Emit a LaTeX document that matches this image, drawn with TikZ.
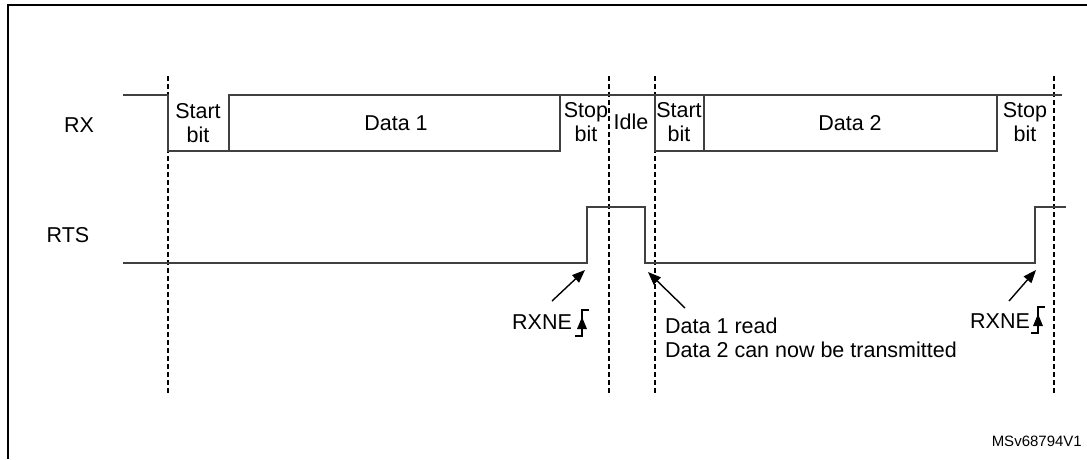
\documentclass[tikz,border=0pt]{standalone}
\usepackage{fontspec}
\setmainfont{Liberation Sans}
\usetikzlibrary{arrows.meta}

\begin{document}
\begin{tikzpicture}[
      x=1pt, y=-1pt,
      signal/.style={line width=1.5pt, draw=black!75},
      bitline/.style={line width=1.3pt, dash pattern=on 5pt off 3pt},
      txt/.style={font=\fontsize{21.5}{24.5}\selectfont, align=center, inner sep=0pt},
      pointer/.style={line width=1.4pt, -{Triangle[length=13pt,width=10pt]}}
    ]
    \useasboundingbox (0,0) rectangle (1087,459);
    % frame
    \draw[line width=2.5pt] (8,459) -- (8,5) -- (1087,5);

    % dashed bit boundaries
    \foreach \x in {168,609,655,1054}
      \draw[bitline] (\x,76) -- (\x,395);

    % RX line
    \node[txt] (rx) at (79,125) {RX};
    \draw[signal] (123,95) -- (168,95) -- (168,151) -- (560,151) -- (560,95);
    \draw[signal] (229,151) -- (229,95) -- (1062,95);
    \draw[signal] (655,95) -- (655,151) -- (997,151) -- (997,95);
    \draw[signal] (704,151) -- (704,95);
    \node[txt] (start1) at (198,123) {Start\\bit};
    \node[txt] (data1) at (396,123) {Data 1};
    \node[txt] (stop1) at (586,122) {Stop\\bit};
    \node[txt] (idle) at (631,122) {Idle};
    \node[txt] (start2) at (679,122) {Start\\bit};
    \node[txt] (data2) at (850,123) {Data 2};
    \node[txt] (stop2) at (1025,122) {Stop\\bit};

    % RTS line
    \node[txt] (rts) at (68,235) {RTS};
    \draw[signal] (123,263) -- (587,263) -- (587,207) -- (645,207) -- (645,263)
      -- (1035,263) -- (1035,207) -- (1066,207);

    % flags and arrows
    \coordinate (rise1) at (585,270);
    \coordinate (fall1) at (648,272);
    \coordinate (rise2) at (1036,270);
    \node[txt] (rxne1) at (542,322) {RXNE};
    \node[txt] (rxne2) at (1000,321) {RXNE};
    \node[txt, align=left, anchor=west] (read) at (665,338) {Data 1 read\\Data 2 can now be transmitted};
    \draw[pointer] (552,301) -- (rise1);
    \draw[pointer] (685,308) -- (fall1);
    \draw[pointer] (1009,301) -- (rise2);

    % rising edge symbols
    \foreach \x/\y in {582/310,1038/307} {
      \draw[line width=1.3pt] (\x-7,\y+26) -- (\x,\y+26) -- (\x,\y) -- (\x+7,\y);
      \fill (\x-5,\y+19) -- (\x+5,\y+19) -- (\x,\y+7) -- cycle;
    }

    % figure code
    \node[font=\fontsize{15}{17}\selectfont, anchor=east, inner sep=0pt] (code) at (1082,441) {MSv68794V1};
\end{tikzpicture}
\end{document}
